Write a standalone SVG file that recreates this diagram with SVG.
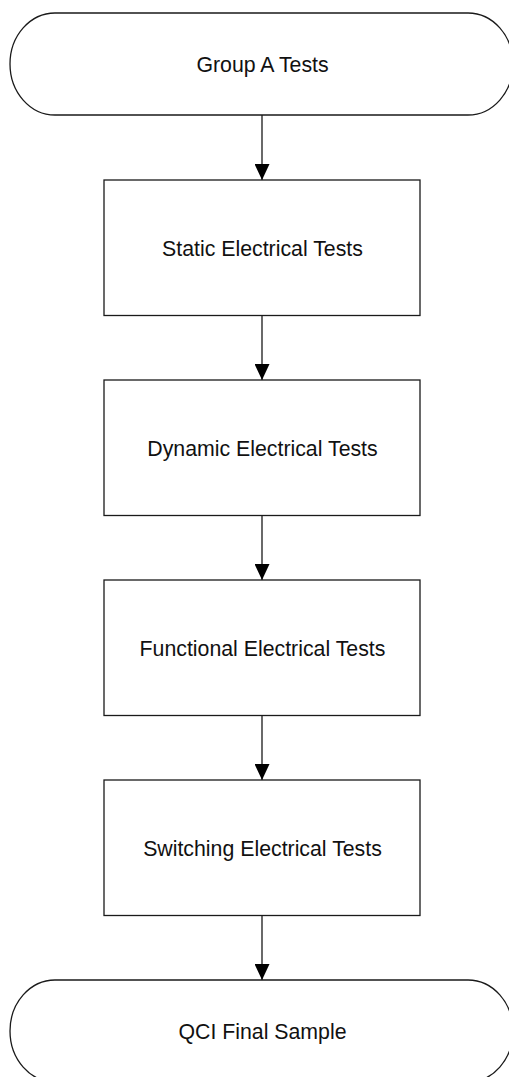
<svg xmlns="http://www.w3.org/2000/svg" width="509" height="1077" viewBox="0 0 509 1077">
<style>
.shape{fill:#ffffff;stroke:#1a1a1a;stroke-width:1.3}
.lbl{font-family:"Liberation Sans",Arial,sans-serif;font-size:21.3px;fill:#111111;text-anchor:middle}
.conn{stroke:#1a1a1a;stroke-width:1.3;fill:none;marker-end:url(#arrow)}
</style>
<defs>
<marker id="arrow" markerUnits="userSpaceOnUse" markerWidth="16" markerHeight="15" refX="16" refY="7.5" orient="auto" viewBox="0 0 16 15">
<path d="M0,0 L16,7.5 L0,15 Z" fill="#000000"/>
</marker>
</defs>
<rect width="509" height="1077" fill="#ffffff"/>
<g id="connectors">
<line class="conn" x1="262" y1="115" x2="262" y2="180"/>
<line class="conn" x1="262" y1="315.5" x2="262" y2="380"/>
<line class="conn" x1="262" y1="515.5" x2="262" y2="580"/>
<line class="conn" x1="262" y1="715.5" x2="262" y2="780"/>
<line class="conn" x1="262" y1="915.5" x2="262" y2="980"/>
</g>
<g id="start">
<rect class="shape" x="10" y="13" width="503" height="102" rx="45" ry="51"/>
<text class="lbl" x="262.5" y="72">Group A Tests</text>
</g>
<g id="static">
<rect class="shape" x="104" y="180" width="316" height="135.5"/>
<text class="lbl" x="262.5" y="255.5">Static Electrical Tests</text>
</g>
<g id="dynamic">
<rect class="shape" x="104" y="380" width="316" height="135.5"/>
<text class="lbl" x="262.5" y="455.5">Dynamic Electrical Tests</text>
</g>
<g id="functional">
<rect class="shape" x="104" y="580" width="316" height="135.5"/>
<text class="lbl" x="262.5" y="655.5">Functional Electrical Tests</text>
</g>
<g id="switching">
<rect class="shape" x="104" y="780" width="316" height="135.5"/>
<text class="lbl" x="262.5" y="855.5">Switching Electrical Tests</text>
</g>
<g id="end">
<rect class="shape" x="10" y="980" width="503" height="102" rx="45" ry="51"/>
<text class="lbl" x="262.5" y="1039">QCI Final Sample</text>
</g>
</svg>
